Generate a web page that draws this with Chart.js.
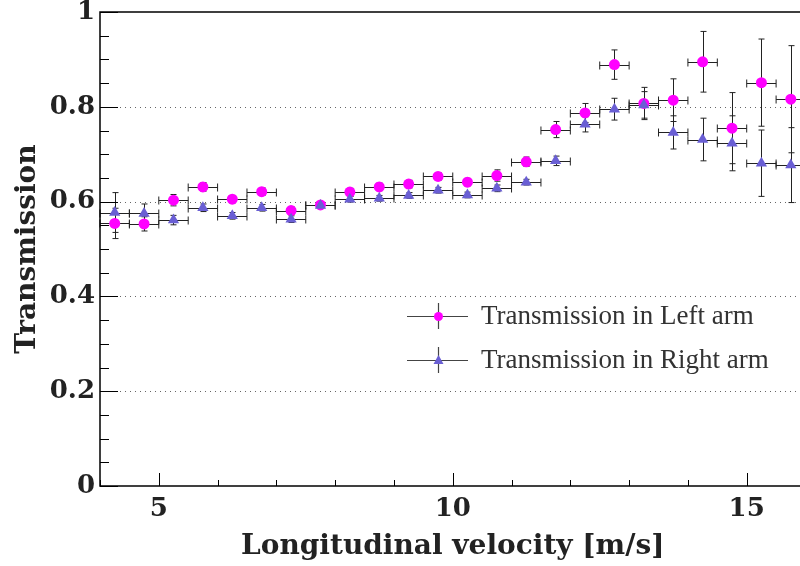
<!DOCTYPE html>
<html>
<head>
<meta charset="utf-8">
<title>Transmission vs longitudinal velocity</title>
<script src="https://cdn.jsdelivr.net/npm/chart.js@4.4.1/dist/chart.umd.min.js"></script>
<style>
  html, body { margin: 0; padding: 0; background: #fff; overflow: hidden; }
  #wrap { width: 800px; height: 566px; overflow: hidden; }
</style>
</head>
<body>
<div id="wrap"><canvas id="chart" width="812" height="566"></canvas></div>
<script>
// bin centres [m/s], each bin is 0.5 m/s wide
const velocity = [4.25, 4.75, 5.25, 5.75, 6.25, 6.75, 7.25, 7.75, 8.25, 8.75, 9.25, 9.75,
                  10.25, 10.75, 11.25, 11.75, 12.25, 12.75, 13.25, 13.75, 14.25, 14.75, 15.25, 15.75];
const binHalfWidth = 0.25;

const leftArm = [0.554, 0.553, 0.603, 0.631, 0.605, 0.621, 0.581, 0.593, 0.620, 0.631, 0.637, 0.653,
                 0.641, 0.655, 0.684, 0.752, 0.787, 0.889, 0.807, 0.814, 0.895, 0.755, 0.851, 0.816];
const leftErr = [0.032, 0.015, 0.012, 0.009, 0.008, 0.008, 0.008, 0.006, 0.008, 0.008, 0.008, 0.008,
                 0.008, 0.012, 0.010, 0.017, 0.020, 0.031, 0.034, 0.045, 0.064, 0.075, 0.092, 0.113];

const rightArm = [0.577, 0.575, 0.561, 0.587, 0.570, 0.587, 0.563, 0.592, 0.605, 0.607, 0.613, 0.624,
                  0.614, 0.628, 0.641, 0.686, 0.763, 0.795, 0.804, 0.746, 0.731, 0.723, 0.681, 0.677];
const rightErr = [0.042, 0.020, 0.010, 0.008, 0.007, 0.007, 0.007, 0.006, 0.006, 0.006, 0.006, 0.006,
                  0.006, 0.007, 0.006, 0.010, 0.016, 0.023, 0.028, 0.035, 0.045, 0.058, 0.070, 0.079];

const xTickLabels = [5, 10, 15];
const yTickLabels = [0, 0.2, 0.4, 0.6, 0.8, 1];
const gridLevels = [0.2, 0.4, 0.6, 0.8];

const legendItems = ["Transmission in Left arm", "Transmission in Right arm"];

const LEFT_COLOR = "#ff00ff";
const RIGHT_COLOR = "#6a5fd4";
const BAR_COLOR = "#222";

function toPoints(xs, ys) {
    return xs.map((v, i) => ({ x: v, y: ys[i] }));
}

function line(ctx, x1, y1, x2, y2) {
    ctx.beginPath();
    ctx.moveTo(x1, y1);
    ctx.lineTo(x2, y2);
    ctx.stroke();
}

function drawErrorBars(ctx, x, y, values, errors) {
    ctx.strokeStyle = BAR_COLOR;
    ctx.lineWidth = 1;
    values.forEach((v, i) => {
        const px = Math.round(x.getPixelForValue(velocity[i])) + 0.5;
        const py = Math.round(y.getPixelForValue(v)) + 0.5;
        const x1 = x.getPixelForValue(velocity[i] - binHalfWidth);
        const x2 = x.getPixelForValue(velocity[i] + binHalfWidth);
        const y1 = y.getPixelForValue(v + errors[i]);
        const y2 = y.getPixelForValue(v - errors[i]);
        line(ctx, x1, py, x2, py);
        line(ctx, x1, py - 4, x1, py + 4);
        line(ctx, x2, py - 4, x2, py + 4);
        line(ctx, px, y1, px, y2);
        line(ctx, px - 3, y1, px + 3, y1);
        line(ctx, px - 3, y2, px + 3, y2);
    });
}

// dotted grid, error bars, axis frame with inward ticks and the legend box
const decorations = {
    id: "decorations",
    beforeDatasetsDraw(chart) {
        const { ctx, chartArea: a, scales: { x, y } } = chart;
        ctx.save();
        ctx.strokeStyle = "#666";
        ctx.lineWidth = 1;
        ctx.setLineDash([1, 4]);
        gridLevels.forEach(v => {
            const py = Math.round(y.getPixelForValue(v)) + 0.5;
            line(ctx, a.left, py, a.right, py);
        });
        ctx.setLineDash([]);
        drawErrorBars(ctx, x, y, leftArm, leftErr);
        drawErrorBars(ctx, x, y, rightArm, rightErr);
        ctx.restore();
    },
    afterDatasetsDraw(chart) {
        const { ctx, chartArea: a, scales: { x, y } } = chart;
        ctx.save();
        ctx.strokeStyle = "#000";
        ctx.lineWidth = 1.5;
        ctx.strokeRect(a.left, a.top, a.right - a.left, a.bottom - a.top);

        ctx.lineWidth = 1;
        // y ticks: majors plus three minors in between
        for (let i = 0; i < yTickLabels.length; i++) {
            const py = Math.round(y.getPixelForValue(yTickLabels[i])) + 0.5;
            line(ctx, a.left, py, a.left + 18, py);
            if (i + 1 < yTickLabels.length) {
                const step = (yTickLabels[i + 1] - yTickLabels[i]) / 4;
                for (let k = 1; k < 4; k++) {
                    const my = Math.round(y.getPixelForValue(yTickLabels[i] + k * step)) + 0.5;
                    line(ctx, a.left, my, a.left + 9, my);
                }
            }
        }
        // x ticks: majors at labels, minors every 1 m/s
        for (let v = Math.ceil(x.min); v <= x.max; v++) {
            const px = Math.round(x.getPixelForValue(v)) + 0.5;
            const len = xTickLabels.includes(v) ? 13 : 6;
            line(ctx, px, a.bottom, px, a.bottom - len);
        }
        ctx.restore();
    },
    afterDraw(chart) {
        const { ctx } = chart;
        const rows = [316, 360];
        ctx.save();
        ctx.font = "27px 'Liberation Serif'";
        ctx.textBaseline = "middle";
        ctx.fillStyle = "#333";
        rows.forEach((ry, i) => {
            ctx.strokeStyle = "#444";
            ctx.lineWidth = 1.2;
            line(ctx, 407, ry + 0.5, 468, ry + 0.5);
            line(ctx, 438.5, ry - 13, 438.5, ry + 13);
            if (i === 0) {
                ctx.fillStyle = LEFT_COLOR;
                ctx.beginPath();
                ctx.arc(438.5, ry + 0.5, 4.5, 0, Math.PI * 2);
                ctx.fill();
            } else {
                ctx.fillStyle = RIGHT_COLOR;
                ctx.beginPath();
                ctx.moveTo(438.5, ry - 5);
                ctx.lineTo(443.5, ry + 4);
                ctx.lineTo(433.5, ry + 4);
                ctx.closePath();
                ctx.fill();
            }
            ctx.fillStyle = "#333";
            ctx.fillText(legendItems[i], 481, ry + 1);
        });
        ctx.restore();
    }
};

const titleFont = { family: "'DejaVu Serif'", size: 28, weight: "bold" };
const tickFont = { family: "'DejaVu Serif'", size: 26, weight: "bold" };

new Chart(document.getElementById("chart"), {
    type: "scatter",
    data: {
        datasets: [
            {
                label: legendItems[0],
                data: toPoints(velocity, leftArm),
                pointStyle: "circle",
                pointRadius: 5.5,
                pointBorderWidth: 0,
                backgroundColor: LEFT_COLOR,
                borderColor: LEFT_COLOR,
                order: 1
            },
            {
                label: legendItems[1],
                data: toPoints(velocity, rightArm),
                pointStyle: "triangle",
                pointRadius: 6.5,
                pointBorderWidth: 0,
                backgroundColor: RIGHT_COLOR,
                borderColor: RIGHT_COLOR,
                order: 0
            }
        ]
    },
    options: {
        responsive: false,
        animation: false,
        layout: { padding: { top: 12, right: 6, left: 0, bottom: 0 } },
        plugins: { legend: { display: false }, tooltip: { enabled: false } },
        scales: {
            x: {
                type: "linear",
                min: 4,
                max: 16,
                grid: { display: false, drawTicks: false },
                border: { display: false },
                afterBuildTicks: s => { s.ticks = xTickLabels.map(v => ({ value: v })); },
                afterFit: s => { s.height = 80; s.paddingLeft = 0; s.paddingRight = 0; },
                ticks: { font: tickFont, color: "#222", padding: 8, maxRotation: 0 },
                title: {
                    display: true,
                    text: "Longitudinal velocity [m/s]",
                    font: titleFont,
                    color: "#222",
                    padding: { top: 0, bottom: 2 }
                }
            },
            y: {
                min: 0,
                max: 1,
                grid: { display: false, drawTicks: false },
                border: { display: false },
                afterBuildTicks: s => { s.ticks = yTickLabels.map(v => ({ value: v })); },
                afterFit: s => { s.width = 100; s.paddingTop = 0; s.paddingBottom = 0; },
                ticks: {
                    font: tickFont,
                    color: "#222",
                    padding: 5,
                    callback: v => String(+v.toFixed(1))
                },
                title: {
                    display: true,
                    text: "Transmission",
                    font: titleFont,
                    color: "#222",
                    padding: { top: 11, bottom: 0 }
                }
            }
        }
    },
    plugins: [decorations]
});
</script>
</body>
</html>
